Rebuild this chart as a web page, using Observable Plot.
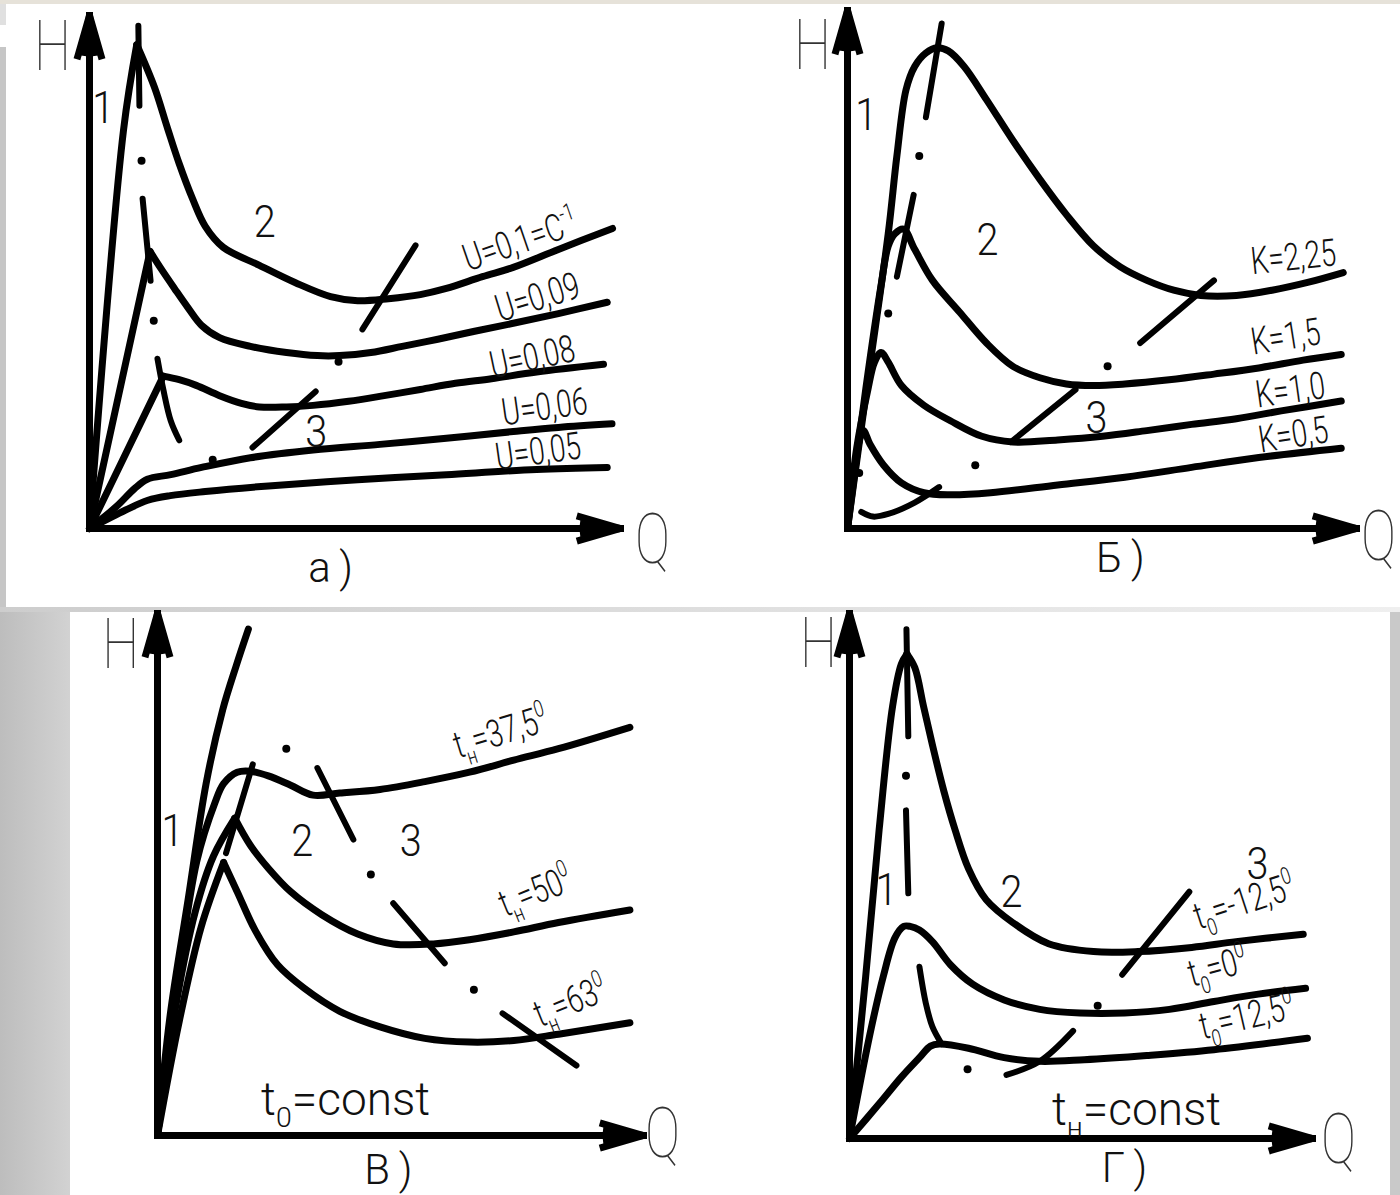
<!DOCTYPE html>
<html><head><meta charset="utf-8">
<script src="https://cdn.jsdelivr.net/npm/d3@7"></script>
<script src="https://cdn.jsdelivr.net/npm/@observablehq/plot@0.6"></script>
<style>
html,body{margin:0;padding:0;background:#fff;}
#stage{position:relative;width:1400px;height:1195px;overflow:hidden;background:#fff;}
.bg{position:absolute;}
.panel{position:absolute;}
</style></head>
<body>
<div id="stage">
  <div class="bg" style="left:0;top:0;width:1400px;height:4px;background:#e6e2d9"></div>
  <div class="bg" style="left:0;top:4px;width:6px;height:21px;background:#e0e0e0"></div>
  <div class="bg" style="left:0;top:47px;width:6px;height:560px;background:#c6c6c6"></div>
  <div class="bg" style="left:0;top:607px;width:1400px;height:5px;background:linear-gradient(to right,#cdcdcd,#efefef)"></div>
  <div class="bg" style="left:0;top:612px;width:70px;height:583px;background:linear-gradient(to right,#bdbdbd,#d2d2d2)"></div>
  <div class="bg" style="left:1390px;top:612px;width:10px;height:583px;background:#c9c9c9"></div>
</div>
<script>
// ---------- common ----------
const qMax = 100, hMax = 100;            // axis extents (Q, H in relative units)
const axisNames = ["H", "Q"];

// ---------- panel а) : U series ----------
const aSeriesLabels = ["U=0,1=C^{-1}", "U=0,09", "U=0,08", "U=0,06", "U=0,05"];
const aLabelAt = [[81.2,56.1,-19],[84.4,45.0,-17],[83.4,33.3,-12],[85.7,23.6,-8],[84.5,14.9,-8]];
const aRise = [
  [[0,0],[6.4,77.6],[8.9,94.3]],
  [[0,0],[11.4,54.0]],
  [[0,0],[13.9,29.7]],
  [], []
];
const aFall = [
  [[8.9,94.3],[12.2,86.1],[14.7,78.0],[16.9,71.1],[19.4,64.3],[21.8,58.9],[25.2,54.8],[32.0,51.3],[38.8,47.9],[45.4,45.2],[50.5,44.4],[56.3,44.8],[62.3,45.6],[67.2,46.8],[74.0,49.1],[79.8,50.9],[88.3,54.4],[98.5,58.5]],
  [[11.4,54.0],[13.5,50.6],[16.0,46.8],[18.5,43.1],[21.1,39.6],[24.5,37.2],[30.3,35.5],[37.1,34.3],[42.9,33.7],[47.1,33.7],[53.0,34.3],[58.9,35.5],[65.6,36.9],[72.3,38.4],[79.8,40.0],[88.3,41.9],[97.5,44.1]],
  [[13.9,29.7],[16.9,29.0],[20.1,27.9],[24.5,25.9],[28.6,24.4],[32.0,23.7],[37.1,23.7],[42.1,24.0],[48.8,24.8],[55.5,25.9],[62.3,27.1],[68.9,28.3],[75.7,29.2],[84.2,30.5],[96.8,32.0]],
  [[0,0],[5.1,4.3],[8.5,7.8],[10.9,9.6],[15.3,10.5],[21.1,11.9],[30.3,13.8],[42.1,15.3],[54.7,16.4],[67.2,17.6],[79.8,18.9],[88.3,19.7],[98.4,20.4]],
  [[0,0],[6.8,3.6],[11.0,5.5],[15.2,6.4],[21.8,7.2],[33.7,8.3],[50.5,9.5],[67.2,10.5],[84.2,11.5],[97.5,11.9]]
];
const aBoundaryDashes = [
  [[9.2,98.0],[9.4,82.4]],
  [[10.0,64.3],[11.5,48.3]],
  [[12.8,33.1],[13.9,27.1],[15.3,21.0],[16.9,17.2]],
  [[30.7,15.8],[42.6,26.7]],
  [[51.4,38.8],[61.4,55.2]]
];
const aBoundaryDots = [[9.8,71.7],[12.1,40.5],[23.2,13.4],[46.9,32.5]];
const aZoneNumbers = ["1","2","3"];
const aZoneAt = [[2.6,81.7],[33.0,59.6],[42.7,18.7]];
const aAxisNameAt = [[-7.0,93.7],[106.0,-2.3]];
const aCaption = ["а\u2009)"], aCaptionAt = [[45.4,-7.8]];
const aNote = [], aNoteAt = [];

// ---------- panel б) : K series ----------
const bSeriesLabels = ["K=2,25", "K=1,5", "K=1,0", "K=0,5"];
const bLabelAt = [[87.6,52.3,-6],[86.1,36.9,-9],[87.0,26.6,-8],[87.6,18.0,-9]];
const bRise = [[], [], [], []];
const bFall = [
  [[0,0],[4.0,28.6],[8.0,56.9],[9.7,71.9],[11.5,84.7],[13.2,89.2],[15.4,91.8],[17.6,92.8],[19.8,92.2],[22.9,89.2],[27.3,82.8],[32.5,74.9],[37.8,67.4],[43.0,60.6],[48.3,54.6],[53.6,50.5],[58.8,47.9],[64.1,46.0],[69.4,45.0],[76.4,45.0],[83.4,46.0],[90.4,47.5],[97.4,49.4]],
  [[0,0],[3.6,27.0],[6.6,47.0],[8.0,54.5],[9.3,56.9],[11.0,57.8],[13.2,53.9],[16.7,47.9],[22.0,41.8],[27.3,35.8],[32.5,31.3],[37.8,29.1],[43.0,27.9],[48.3,27.6],[54.5,27.9],[63.2,28.7],[72.0,29.8],[80.8,31.0],[89.5,32.5],[97.0,33.6]],
  [[0,0],[1.8,15.5],[4.0,26.8],[5.3,32.1],[6.6,34.0],[8.0,32.1],[10.6,27.6],[15.0,23.8],[20.2,20.8],[26.4,17.8],[32.5,16.7],[41.3,17.1],[50.1,17.8],[58.8,18.9],[67.6,20.1],[76.4,21.2],[85.2,22.7],[97.0,24.6]],
  [[0,0],[1.4,11.8],[3.1,18.9],[4.4,16.3],[7.1,12.2],[10.6,8.8],[15.0,6.9],[20.2,6.5],[28.1,6.9],[41.3,8.4],[54.5,9.9],[67.6,11.8],[80.8,13.7],[97.0,15.5]]
];
const bBoundaryDashes = [
  [[18.5,97.5],[15.4,79.4]],
  [[13.0,64.4],[9.7,48.6]],
  [[2.7,3.2],[5.0,2.3],[8.0,2.8],[13.2,5.0],[18.0,8.0]],
  [[32.1,16.7],[44.8,26.8]],
  [[57.5,35.8],[72.0,47.9]]
];
const bBoundaryDots = [[14.1,71.9],[8.0,41.5],[2.3,10.7],[25.1,12.2],[51.1,31.3]];
const bZoneNumbers = ["1","2","3"];
const bZoneAt = [[3.7,79.7],[27.5,55.6],[48.9,21.2]];
const bAxisNameAt = [[-6.9,93.1],[104.3,-1.7]];
const bCaption = ["Б\u2009)"], bCaptionAt = [[53.6,-5.8]];
const bNote = [], bNoteAt = [];

// ---------- panel в) : t_н series, t_0 = const ----------
const cSeriesLabels = ["t_{н}=37,5^{0}", "t_{н}=50^{0}", "t_{н}=63^{0}"];
const cLabelAt = [[70.6,77.2,-17],[77.8,46.7,-22],[85.0,25.6,-22]];
const cRise = [
  [[0,0],[2.6,23.0],[6.3,45.2],[10.0,67.4],[13.4,81.5],[16.2,90.0],[18.7,97.0]],
  [],
  [[0,0],[3.8,25.0],[7.8,43.0],[11.5,53.5],[15.9,60.8]],
  [[0,0],[4.5,22.0],[9.0,40.0],[13.6,52.3]]
];
const cFall = [
  [],
  [[0,0],[4.2,30.0],[8.1,52.6],[11.8,63.7],[13.6,67.4],[16.4,69.6],[19.1,69.8],[22.8,68.9],[27.4,67.1],[32.0,65.2],[37.5,65.6],[45.8,66.3],[55.0,67.8],[64.2,69.6],[73.3,71.9],[82.5,74.1],[97.2,78.2]],
  [[15.9,60.8],[19.1,55.6],[22.8,51.2],[27.4,46.7],[33.8,42.3],[41.2,38.6],[48.5,36.7],[56.8,36.7],[64.2,37.5],[73.3,39.0],[82.5,40.8],[97.2,43.2]],
  [[13.6,52.3],[16.4,46.7],[20.1,39.3],[24.7,32.7],[30.2,28.2],[37.5,23.8],[45.8,20.8],[55.0,18.6],[64.2,17.9],[73.3,18.2],[82.5,19.4],[97.2,21.6]]
];
const cBoundaryDashes = [
  [[19.6,71.1],[14.1,54.1]],
  [[32.9,70.4],[40.3,56.7]],
  [[48.5,44.5],[59.1,33.0]],
  [[71.0,23.4],[86.2,13.4]]
];
const cBoundaryDots = [[26.5,74.1],[43.9,50.0],[65.1,27.9]];
const cZoneNumbers = ["1","2","3"];
const cZoneAt = [[3.1,58.1],[29.8,56.3],[52.1,56.3]];
const cAxisNameAt = [[-7.6,93.9],[103.9,0.2]];
const cCaption = ["В\u2009)"], cCaptionAt = [[47.5,-6.8]];
const cNote = ["t_{0}=const"], cNoteAt = [[38.7,6.7]];

// ---------- panel г) : t_0 series, t_н = const ----------
const dSeriesLabels = ["t_{0}=-12,5^{0}", "t_{0}=0^{0}", "t_{0}=12,5^{0}"];
const dLabelAt = [[85.3,45.1,-18],[79.5,32.6,-15],[85.8,23.2,-13]];
const dRise = [
  [[0,0],[3.5,30.9],[6.4,58.8],[9.3,82.3],[11.2,90.4],[12.4,92.3]],
  [], []
];
const dFall = [
  [[12.4,92.3],[14.1,89.7],[16.0,82.3],[17.9,75.0],[20.4,66.1],[22.8,58.8],[25.7,51.4],[29.5,45.5],[35.3,41.1],[43.0,37.1],[52.7,35.6],[62.3,35.6],[73.9,36.4],[83.5,37.5],[98.0,38.9]],
  [[0,0],[4.4,19.8],[7.3,30.9],[9.8,38.2],[11.7,40.4],[13.1,40.4],[15.1,39.7],[17.9,37.5],[21.8,33.1],[26.6,29.4],[33.4,26.4],[41.1,24.6],[49.8,23.9],[59.4,23.9],[69.1,24.6],[78.7,26.1],[88.3,27.5],[98.5,28.6]],
  [[0,0],[6.4,6.6],[11.2,11.7],[15.1,15.4],[17.5,17.6],[19.4,18.0],[25.7,17.2],[33.4,15.4],[41.1,14.7],[50.7,15.0],[64.2,15.8],[78.7,16.9],[98.9,19.1]]
];
const dBoundaryDashes = [
  [[12.3,97.0],[12.7,76.6]],
  [[12.2,62.5],[12.7,46.7]],
  [[15.1,32.7],[16.5,25.7],[17.9,21.3],[19.9,18.0]],
  [[33.9,12.1],[41.1,14.7],[48.3,20.5]],
  [[58.9,31.2],[73.4,47.0]]
];
const dBoundaryDots = [[12.2,69.1],[25.5,13.2],[53.6,25.3]];
const dZoneNumbers = ["1","2","3"];
const dZoneAt = [[8.0,47.2],[35.0,46.7],[88.1,52.2]];
const dAxisNameAt = [[-6.7,94.1],[105.6,-0.4]];
const dCaption = ["Г\u2009)"], dCaptionAt = [[59.4,-5.7]];
const dNote = ["t_{н}=const"], dNoteAt = [[62.0,5.3]];

// ---------- layout (pixels) ----------
const layout = {
  a: {left:0,   top:0,   width:700, height:607, ml:89,  mr:80, mt:15, mb:79},
  b: {left:700, top:0,   width:700, height:607, ml:147, mr:44, mt:10, mb:79},
  c: {left:70,  top:607, width:630, height:588, ml:87,  mr:57, mt:6,  mb:60},
  d: {left:700, top:607, width:690, height:588, ml:149, mr:78, mt:6,  mb:57}
};

const FONT = "Roboto, 'DejaVu Sans', sans-serif";
const SQUEEZE = {lbl:0.74, num:0.9, axisname:0.75, cap:1, note:1};

function lineRows(rise, fall) {
  const rows = [];
  rise.forEach((pts,i) => pts.forEach(([q,h]) => rows.push({id:"r"+i, q, h})));
  fall.forEach((pts,i) => pts.forEach(([q,h]) => rows.push({id:"f"+i, q, h})));
  return rows;
}
function dashRows(dashes) {
  const rows = [];
  dashes.forEach((pts,i) => pts.forEach(([q,h]) => rows.push({id:"d"+i, q, h})));
  return rows;
}
function textRows(texts, at) {
  return texts.map((t,i) => ({t, q:at[i][0], h:at[i][1], r:at[i][2] || 0}));
}

function richText(t) {
  const s = t.textContent;
  if (!/[_^]\{/.test(s)) return;
  const F = parseFloat(getComputedStyle(t).fontSize) || 38;
  t.textContent = "";
  const parts = s.split(/([_^]\{[^}]*\})/).filter(p => p);
  let shift = 0;
  for (const p of parts) {
    const ts = document.createElementNS("http://www.w3.org/2000/svg", "tspan");
    let target = 0, size = F, str = p;
    if (p.startsWith("_{")) { target = 0.26*F; size = 0.62*F; str = p.slice(2,-1); }
    else if (p.startsWith("^{")) { target = -0.42*F; size = 0.62*F; str = p.slice(2,-1); }
    if (target - shift !== 0) ts.setAttribute("dy", (target - shift).toFixed(2));
    ts.setAttribute("font-size", size.toFixed(1));
    ts.textContent = str;
    shift = target;
    t.appendChild(ts);
  }
}
function finishText(svg) {
  svg.querySelectorAll("g[aria-description]").forEach(g => {
    const k = SQUEEZE[g.getAttribute("aria-description")] ?? 1;
    g.querySelectorAll("text").forEach(t => {
      const tr = t.getAttribute("transform") || "";
      if (k !== 1) t.setAttribute("transform", tr + ` scale(${k},1)`);
      richText(t);
    });
  });
}

function panel(L, P) {
  const axisRows = [{x1:0,y1:0,x2:0,y2:hMax},{x1:0,y1:0,x2:qMax,y2:0}];
  const txt = (rows, opts) => Plot.text(rows, {x:"q", y:"h", text:"t", rotate:"r", fontFamily:FONT, fill:"#111", ...opts});
  const plot = Plot.plot({
    width:L.width, height:L.height,
    marginLeft:L.ml, marginRight:L.mr, marginTop:L.mt, marginBottom:L.mb,
    x:{domain:[0,qMax], axis:null},
    y:{domain:[0,hMax], axis:null},
    style:{background:"transparent", overflow:"visible"},
    marks:[
      Plot.line(lineRows(P.rise, P.fall), {x:"q", y:"h", z:"id", curve:"catmull-rom", stroke:"#000", strokeWidth:7, strokeLinecap:"round", strokeLinejoin:"round"}),
      Plot.line(dashRows(P.dashes), {x:"q", y:"h", z:"id", curve:"catmull-rom", stroke:"#000", strokeWidth:6, strokeLinecap:"round"}),
      Plot.dot(P.dots.map(([q,h]) => ({q,h})), {x:"q", y:"h", r:4, fill:"#000"}),
      Plot.arrow(axisRows, {x1:"x1", y1:"y1", x2:"x2", y2:"y2", stroke:"#000", strokeWidth:7, headAngle:32, headLength:9, strokeLinecap:"square", strokeLinejoin:"round"}),
      Plot.arrow(axisRows, {x1:"x1", y1:"y1", x2:"x2", y2:"y2", stroke:"#000", strokeWidth:7, headAngle:14, headLength:8, strokeLinecap:"square", strokeLinejoin:"round"}),
      txt(textRows(P.labels, P.labelAt), {fontSize:38, fontWeight:300, ariaDescription:"lbl"}),
      txt(textRows(P.zones, P.zoneAt), {fontSize:44, fontWeight:300, ariaDescription:"num"}),
      txt(textRows(axisNames, P.axisAt), {fontSize:70, fontWeight:100, fill:"#333", ariaDescription:"axisname"}),
      txt(textRows(P.caption, P.captionAt), {fontSize:42, fontWeight:300, ariaDescription:"cap"}),
      txt(textRows(P.note, P.noteAt), {fontSize:46, fontWeight:300, ariaDescription:"note"})
    ]
  });
  const div = document.createElement("div");
  div.className = "panel";
  div.style.left = L.left + "px";
  div.style.top = L.top + "px";
  div.appendChild(plot);
  document.getElementById("stage").appendChild(div);
  finishText(plot);
}

panel(layout.a, {rise:aRise, fall:aFall, dashes:aBoundaryDashes, dots:aBoundaryDots, labels:aSeriesLabels, labelAt:aLabelAt, zones:aZoneNumbers, zoneAt:aZoneAt, axisAt:aAxisNameAt, caption:aCaption, captionAt:aCaptionAt, note:aNote, noteAt:aNoteAt});
panel(layout.b, {rise:bRise, fall:bFall, dashes:bBoundaryDashes, dots:bBoundaryDots, labels:bSeriesLabels, labelAt:bLabelAt, zones:bZoneNumbers, zoneAt:bZoneAt, axisAt:bAxisNameAt, caption:bCaption, captionAt:bCaptionAt, note:bNote, noteAt:bNoteAt});
panel(layout.c, {rise:cRise, fall:cFall, dashes:cBoundaryDashes, dots:cBoundaryDots, labels:cSeriesLabels, labelAt:cLabelAt, zones:cZoneNumbers, zoneAt:cZoneAt, axisAt:cAxisNameAt, caption:cCaption, captionAt:cCaptionAt, note:cNote, noteAt:cNoteAt});
panel(layout.d, {rise:dRise, fall:dFall, dashes:dBoundaryDashes, dots:dBoundaryDots, labels:dSeriesLabels, labelAt:dLabelAt, zones:dZoneNumbers, zoneAt:dZoneAt, axisAt:dAxisNameAt, caption:dCaption, captionAt:dCaptionAt, note:dNote, noteAt:dNoteAt});
</script>
</body></html>
